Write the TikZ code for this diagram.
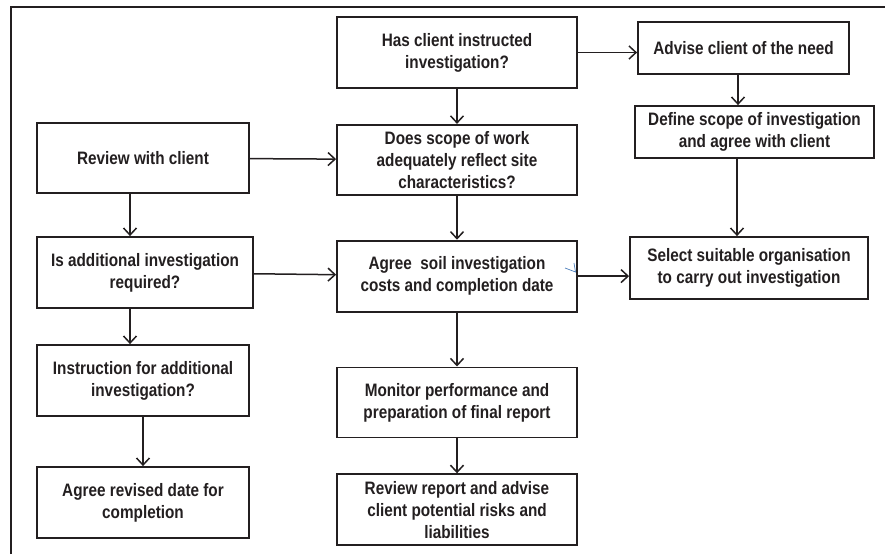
\documentclass[tikz,border=0pt]{standalone}
\usepackage{fontspec}
\setmainfont{Liberation Sans}[FakeStretch=0.85]
\usepackage{tikz}
\usetikzlibrary{arrows.meta, positioning}
\definecolor{BoxInk}{HTML}{231F20}
\definecolor{TickBlue}{HTML}{4F81BD}

\begin{document}
\begin{tikzpicture}[x=1pt, y=1pt, node distance=35pt, >={Straight Barb[length=7pt,width=13pt]}]
    \tikzstyle{block} = [rectangle, draw=BoxInk, fill=white, line width=1.8pt, align=center, inner sep=0pt, text=BoxInk, font=\bfseries\fontsize{18}{22}\selectfont]
    \tikzstyle{line} = [draw, ->, line width=1.5pt, BoxInk]

    \useasboundingbox (0,0) rectangle (885,-554);
    \fill [white] (0,0) rectangle (885,-554);
    % outer frame, cut off on the right and at the bottom
    \draw [BoxInk, line width=1.8pt] (11,-554) -- (11,-7) -- (885,-7);

    \node [block, minimum width=240pt, minimum height=71pt] (has) at (457,-52.5) {Has client instructed\\investigation?};
    \node [block, minimum width=211pt, minimum height=52pt] (advise) at (743.5,-48) {Advise client of the need};
    \node [block, minimum width=239pt, minimum height=52pt] (define) at (754.5,-132) {Define scope of investigation\\and agree with client};
    \node [block, minimum width=240pt, minimum height=70pt, below=35pt of has] (scope) {Does scope of work\\adequately reflect site\\characteristics?};
    \node [block, minimum width=212pt, minimum height=70pt] (review) at (143,-158) {Review with client};
    \node [block, minimum width=240pt, minimum height=71pt, below=44pt of scope] (agree) {Agree~ soil investigation\\costs and completion date};
    \node [block, minimum width=216pt, minimum height=71pt] (isadd) at (145,-272.5) {Is additional investigation\\required?};
    \node [block, minimum width=238pt, minimum height=62pt] (select) at (749,-268) {Select suitable organisation\\to carry out investigation};
    \node [block, minimum width=212pt, minimum height=71pt] (instr) at (143,-380.5) {Instruction for additional\\investigation?};
    \node [block, minimum width=240pt, minimum height=70pt, below=54pt of agree] (monitor) {Monitor performance and\\preparation of final report};
    \node [block, minimum width=240pt, minimum height=71pt, below=35pt of monitor] (report) {Review report and advise\\client potential risks and\\liabilities};
    \node [block, minimum width=212pt, minimum height=71pt] (revised) at (143,-502.5) {Agree revised date for\\completion};

    % connectors
    \path [line] (has.east) -- (has.east -| advise.west);
    \path [line] (has) -- (scope);
    \path [line] ([xshift=-5.5pt]advise.south) -- ([xshift=-5.5pt]advise.south |- define.north);
    \path [line] ([xshift=-17.5pt]define.south) -- ([xshift=-17.5pt]define.south |- select.north);
    \path [line] (review) -- (scope);
    \path [line] (scope) -- (agree);
    \path [line] (isadd) -- (agree);
    \path [line] (agree.east) -- (agree.east -| select.west);
    \path [line] ([xshift=-13pt]review.south) -- ([xshift=-13pt]review.south |- isadd.north);
    \path [line] ([xshift=-15pt]isadd.south) -- ([xshift=-15pt]isadd.south |- instr.north);
    \path [line] (instr) -- (revised);
    \path [line] (agree) -- (monitor);
    \path [line] (monitor) -- (report);

    % stray blue tick beside the arrow
    \draw [TickBlue, line width=0.7pt] (565,-268) -- (575.5,-272) -- (574,-263);
\end{tikzpicture}
\end{document}
